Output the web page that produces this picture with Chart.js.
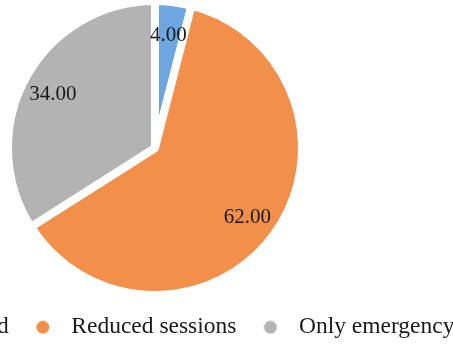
<!DOCTYPE html>
<html>
<head>
<meta charset="utf-8">
<script src="https://cdn.jsdelivr.net/npm/chart.js@4/dist/chart.umd.min.js"></script>
<style>
  html, body { margin: 0; padding: 0; background: #ffffff; overflow: hidden; width: 453px; height: 345px; }
  #wrap { position: absolute; left: -245px; top: 0; width: 800px; height: 349px; }
</style>
</head>
<body>
<div id="wrap"><canvas id="chart" width="800" height="349"></canvas></div>
<script>
// Session status shares (percent)
const categories = ['Clinics closed', 'Reduced sessions', 'Only emergency'];
const shares = [4, 62, 34];
const sliceColors = ['#6ea6df', '#f18f4b', '#b3b3b3'];

const serif = "'Liberation Serif', 'Times New Roman', serif";

// Round legend marker, placed a little left of the label text
function makeMarker(color) {
  const c = document.createElement('canvas');
  c.width = 40; c.height = 14;
  const g = c.getContext('2d');
  g.fillStyle = color;
  g.beginPath();
  g.arc(7.75, 7, 6.5, 0, Math.PI * 2);
  g.fill();
  return c;
}
const markers = sliceColors.map(makeMarker);

// Writes each slice's value inside the slice
const sliceValueLabels = {
  id: 'sliceValueLabels',
  afterDatasetsDraw(chart) {
    const ctx = chart.ctx;
    const meta = chart.getDatasetMeta(0);
    const values = chart.data.datasets[0].data;
    ctx.save();
    ctx.font = '21px ' + serif;
    ctx.fillStyle = '#1a1a1a';
    ctx.textAlign = 'center';
    ctx.textBaseline = 'middle';
    meta.data.forEach((arc, i) => {
      const p = arc.getProps(['x', 'y', 'startAngle', 'endAngle', 'outerRadius'], true);
      const mid = (p.startAngle + p.endAngle) / 2;
      const r = p.outerRadius * 0.785;
      ctx.fillText(Number(values[i]).toFixed(2), p.x + Math.cos(mid) * r - 1, p.y + Math.sin(mid) * r + 2);
    });
    ctx.restore();
  }
};

new Chart(document.getElementById('chart'), {
  type: 'pie',
  data: {
    labels: categories,
    datasets: [{
      data: shares,
      backgroundColor: sliceColors,
      borderColor: '#ffffff',
      borderWidth: 8,
      radius: 147,
      clip: false
    }]
  },
  options: {
    responsive: false,
    animation: false,
    devicePixelRatio: 1,
    layout: { padding: { top: 22.25, bottom: 0, left: 0, right: 0 } },
    plugins: {
      tooltip: { enabled: false },
      legend: {
        position: 'bottom',
        labels: {
          usePointStyle: true,
          boxWidth: 9,
          boxHeight: 9,
          padding: 41.75,
          color: '#1a1a1a',
          font: { size: 23.5, family: serif },
          generateLabels(chart) {
            return categories.map((text, i) => ({
              text,
              fillStyle: sliceColors[i],
              strokeStyle: sliceColors[i],
              lineWidth: 0,
              pointStyle: markers[i],
              fontColor: '#1a1a1a',
              hidden: !chart.getDataVisibility(i),
              index: i
            }));
          }
        }
      }
    }
  },
  plugins: [sliceValueLabels]
});
</script>
</body>
</html>
